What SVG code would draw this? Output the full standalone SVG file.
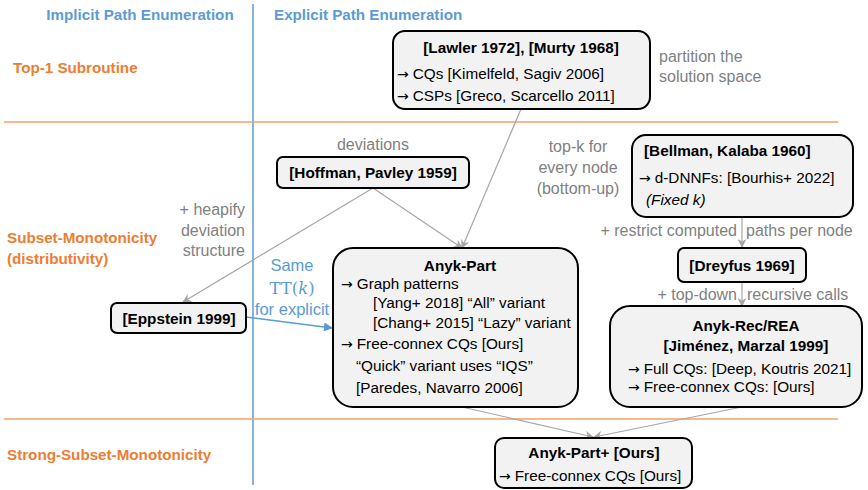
<svg xmlns="http://www.w3.org/2000/svg" width="868" height="490" viewBox="0 0 868 490">
<defs>
<style>
text{font-family:"Liberation Sans",Arial,sans-serif;font-size:15.3px;fill:#000}
.hdr{font-weight:bold;fill:#5B9BD5;font-size:15.2px}
.cat{font-weight:bold;fill:#ED7D31;font-size:15.2px}
.note{fill:#7F7F7F;font-size:16px}
.b{font-weight:bold}
.c{text-anchor:middle}
.e{text-anchor:end}
.ar{font-family:"DejaVu Sans",sans-serif;font-size:14px}
.box{fill:#F2F2F2;stroke:#000;stroke-width:2}
.con{stroke:#A6A6A6;stroke-width:1.2;fill:none;marker-end:url(#ga)}
.sep{stroke:#F4A06A;stroke-width:1.5}
.blue{fill:#5B9BD5;font-size:16.5px}
</style>
<marker id="ga" viewBox="0 0 10 10" refX="9" refY="5" markerWidth="9" markerHeight="9" orient="auto" markerUnits="userSpaceOnUse">
<path d="M0,0 L10,5 L0,10 L3,5 Z" fill="#A6A6A6"/>
</marker>
<marker id="ba" viewBox="0 0 10 10" refX="9" refY="5" markerWidth="9" markerHeight="9" orient="auto" markerUnits="userSpaceOnUse">
<path d="M0,0 L10,5 L0,10 Z" fill="#5B9BD5"/>
</marker>
</defs>
<rect width="868" height="490" fill="#fff"/>

<g id="grid">
<line x1="253" y1="4" x2="253" y2="485" stroke="#5B9BD5" stroke-width="1.5"/>
<line class="sep" x1="4" y1="122" x2="838" y2="122"/>
<line class="sep" x1="4" y1="419" x2="838" y2="419"/>
<text class="hdr c" x="140" y="20">Implicit Path Enumeration</text>
<text class="hdr" x="274" y="20">Explicit Path Enumeration</text>
<text class="cat" x="13" y="73">Top-1 Subroutine</text>
<text class="cat" x="7" y="243">Subset-Monotonicity</text>
<text class="cat" x="7" y="264">(distributivity)</text>
<text class="cat" x="7" y="460">Strong-Subset-Monotonicity</text>
</g>

<g id="labels">
<text class="note" x="659" y="62">partition the</text>
<text class="note" x="659" y="82">solution space</text>
<text class="note c" x="373" y="150">deviations</text>
<text class="note e" x="245" y="215">+ heapify</text>
<text class="note e" x="245" y="236">deviation</text>
<text class="note e" x="245" y="256">structure</text>
<text class="note c" x="578" y="152">top-k for</text>
<text class="note c" x="578" y="173">every node</text>
<text class="note c" x="578" y="194">(bottom-up)</text>
<text class="note e" x="737" y="236">+ restrict computed</text>
<text class="note" x="746" y="236">paths per node</text>
<text class="note e" x="737" y="300">+ top-down</text>
<text class="note" x="747" y="300">recursive calls</text>
<text class="c blue" x="292" y="271">Same</text>
<text class="c blue" x="292" y="294" style="font-family:'DejaVu Serif','Liberation Serif',serif">TT(<tspan font-style="italic">k</tspan>)</text>
<text class="c blue" x="292" y="315">for explicit</text>
</g>

<g id="connectors">
<line class="con" x1="521" y1="109" x2="462" y2="248"/>
<line class="con" x1="373" y1="188" x2="462" y2="248"/>
<line class="con" x1="373" y1="188" x2="183" y2="302"/>
<line class="con" x1="742" y1="217" x2="742" y2="247"/>
<line class="con" x1="742" y1="282" x2="742" y2="306"/>
<line class="con" x1="462" y1="407" x2="593" y2="437"/>
<line class="con" x1="742" y1="407" x2="594" y2="437"/>
<line x1="246" y1="317" x2="332" y2="328" stroke="#5B9BD5" stroke-width="1.5" marker-end="url(#ba)"/>
</g>

<g id="lawler">
<rect class="box" x="393" y="31" width="257" height="78" rx="12"/>
<text class="b c" x="521" y="53">[Lawler 1972], [Murty 1968]</text>
<text x="397" y="79"><tspan class="ar">→</tspan><tspan dx="4">CQs [Kimelfeld, Sagiv 2006]</tspan></text>
<text x="397" y="101"><tspan class="ar">→</tspan><tspan dx="4">CSPs [Greco, Scarcello 2011]</tspan></text>
</g>

<g id="hoffman">
<rect class="box" x="277" y="157" width="192" height="31" rx="6"/>
<text class="b c" x="373" y="178">[Hoffman, Pavley 1959]</text>
</g>

<g id="eppstein">
<rect class="box" x="111" y="303" width="135" height="30" rx="6"/>
<text class="b c" x="179" y="324">[Eppstein 1999]</text>
</g>

<g id="anyk-part">
<rect class="box" x="333" y="248" width="245" height="159" rx="20"/>
<text class="b c" x="460" y="271">Anyk-Part</text>
<text x="341" y="289"><tspan class="ar">→</tspan><tspan dx="4">Graph patterns</tspan></text>
<text x="373" y="308">[Yang+ 2018] “All” variant</text>
<text x="373" y="328">[Chang+ 2015] “Lazy” variant</text>
<text x="341" y="349"><tspan class="ar">→</tspan><tspan dx="4">Free-connex CQs [Ours]</tspan></text>
<text x="356" y="371">“Quick” variant uses “IQS”</text>
<text x="356" y="393">[Paredes, Navarro 2006]</text>
</g>

<g id="bellman">
<rect class="box" x="632" y="135" width="221" height="82" rx="14"/>
<text class="b" x="644" y="156">[Bellman, Kalaba 1960]</text>
<text x="639" y="183"><tspan class="ar">→</tspan><tspan dx="4">d-DNNFs: [Bourhis+ 2022]</tspan></text>
<text x="646" y="205" font-style="italic">(Fixed k)</text>
</g>

<g id="dreyfus">
<rect class="box" x="678" y="248" width="128" height="34" rx="6"/>
<text class="b c" x="742" y="271">[Dreyfus 1969]</text>
</g>

<g id="anyk-rec">
<rect class="box" x="610" y="306" width="252" height="101" rx="20"/>
<text class="b c" x="746" y="331">Anyk-Rec/REA</text>
<text class="b c" x="746" y="351">[Jiménez, Marzal 1999]</text>
<text x="628" y="374"><tspan class="ar">→</tspan><tspan dx="4">Full CQs: [Deep, Koutris 2021]</tspan></text>
<text x="628" y="392"><tspan class="ar">→</tspan><tspan dx="4">Free-connex CQs: [Ours]</tspan></text>
</g>

<g id="anyk-part-plus">
<rect class="box" x="495" y="438" width="197" height="50" rx="9"/>
<text class="b c" x="594" y="458">Anyk-Part+ [Ours]</text>
<text x="499" y="481"><tspan class="ar">→</tspan><tspan dx="4">Free-connex CQs [Ours]</tspan></text>
</g>
</svg>
